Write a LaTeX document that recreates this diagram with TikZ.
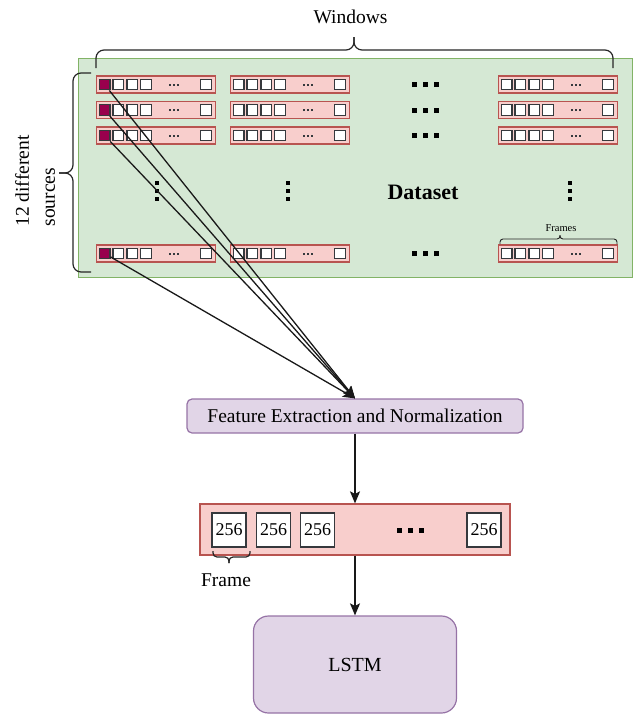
\documentclass[tikz,border=0pt]{standalone}
\usepackage{fontspec}
\setmainfont{Liberation Serif}
\usetikzlibrary{arrows.meta,calc}
\definecolor{dgreen}{HTML}{D5E8D4}
\definecolor{bgreen}{HTML}{82B366}
\definecolor{fred}{HTML}{F8CECC}
\definecolor{bred}{HTML}{B85450}
\definecolor{fpurp}{HTML}{E1D5E7}
\definecolor{bpurp}{HTML}{9673A6}
\definecolor{cellb}{HTML}{36393D}
\definecolor{srcred}{HTML}{99004D}
\newcommand{\myhdots}{\rule{5pt}{5pt}\hspace{6pt}\rule{5pt}{5pt}\hspace{6pt}\rule{5pt}{5pt}}
\newcommand{\myvdots}{\rule{4pt}{4pt}\hspace{4pt}\rule{4pt}{4pt}\hspace{4pt}\rule{4pt}{4pt}}
\newcommand{\mysdots}{\rule{2pt}{2pt}\hspace{2pt}\rule{2pt}{2pt}\hspace{2pt}\rule{2pt}{2pt}}
\begin{document}
\begin{tikzpicture}[x=1pt,y=-1pt,
  txt/.style={inner sep=0pt, font=\fontsize{19.5}{23}\selectfont},
  win/.style={draw=bred, fill=fred, line width=1.2pt, minimum width=119pt, minimum height=17pt, inner sep=0pt, anchor=west},
  cell/.style={draw=cellb, fill=white, line width=1.4pt, minimum size=10.5pt, inner sep=0pt},
  bigcell/.style={draw=cellb, fill=white, line width=1.4pt, minimum size=34pt, inner sep=0pt, font=\fontsize{18}{20}\selectfont},
  dots/.style={inner sep=0pt, text=black},
  brc/.style={line width=1.2pt, draw=black!85, rounded corners=8pt},
  arr/.style={line width=1.3pt, draw=black!90, -{Stealth[length=12pt,width=10pt,inset=2.5pt]}},
  pbox/.style={draw=bpurp, fill=fpurp, line width=1.2pt, inner sep=0pt}
]
\useasboundingbox (0,0) rectangle (635,715);

% dataset area
\node[draw=bgreen, fill=dgreen, line width=1.3pt, minimum width=554pt, minimum height=219pt, anchor=north west, inner sep=0pt] (dataset) at (78,58) {};
\node[inner sep=0pt, font=\bfseries\fontsize{22}{24}\selectfont] (dlabel) at (423,192) {Dataset};

% windows
\foreach \r/\y in {1/84.5,2/110,3/135.5,4/253.5}{
  \foreach \c/\x in {1/96,2/230,4/498}{
    \node[win] (w\r-\c) at (\x,\y) {};
    \ifnum\c=1 \def\cf{srcred}\else\def\cf{white}\fi
    \node[cell, fill=\cf] (c\r-\c-1) at ({\x+8.6},\y) {};
    \node[cell] (c\r-\c-2) at ({\x+22.4},\y) {};
    \node[cell] (c\r-\c-3) at ({\x+36.2},\y) {};
    \node[cell] (c\r-\c-4) at ({\x+50},\y) {};
    \node[dots, text=cellb] (e\r-\c) at ({\x+78},\y) {\mysdots};
    \node[cell] (c\r-\c-5) at ({\x+110},\y) {};
  }
  \node[dots] (hd\r) at (425,\y) {\myhdots};
}
\node[dots, rotate=90] (vd1) at (157,191) {\myvdots};
\node[dots, rotate=90] (vd2) at (288,191) {\myvdots};
\node[dots, rotate=90] (vd4) at (570,191) {\myvdots};

% braces
\coordinate (wt) at (354,37);
\draw[brc] (96,68) -- (96,50) -- (354,50) -- (wt);
\draw[brc] (613,68) -- (613,50) -- (354,50) -- (wt);
\node[txt] (wlabel) at (350.5,17) {Windows};

\coordinate (st) at (59,173);
\draw[brc] (91,73) -- (73,73) -- (73,173) -- (st);
\draw[brc] (91,272) -- (73,272) -- (73,173) -- (st);
\node[txt, rotate=90, align=left, font=\fontsize{19.5}{26}\selectfont] (slabel) at (35,181) {12 different\\sources};

\coordinate (ft) at (560,235);
\draw[brc, line width=0.9pt, rounded corners=3pt] (500,244) -- (500,239) -- (560,239) -- (ft);
\draw[brc, line width=0.9pt, rounded corners=3pt] (617,244) -- (617,239) -- (560,239) -- (ft);
\node[inner sep=0pt, font=\fontsize{10.5}{12}\selectfont] (flabel) at (561,228) {Frames};

% feature box
\node[pbox, rounded corners=5pt, minimum width=336pt, minimum height=34pt, font=\fontsize{19.5}{23}\selectfont] (feat) at (355,416) {Feature Extraction and Normalization};

\foreach \r in {1,2,3,4}{
  \draw[arr] (c\r-1-1) -- (feat.north);
}

% frame array
\node[draw=bred, fill=fred, line width=1.2pt, minimum width=310pt, minimum height=51pt, inner sep=0pt] (farr) at (355,529.5) {};
\node[bigcell] (f1) at (229,530) {256};
\node[bigcell] (f2) at (273.5,530) {256};
\node[bigcell] (f3) at (317.5,530) {256};
\node[bigcell] (f4) at (484,530) {256};
\node[dots] (fd) at (410,530) {\myhdots};

\coordinate (bt) at (229,563);
\draw[brc, rounded corners=4pt] (213,551) -- (213,557) -- (229,557) -- (bt);
\draw[brc, rounded corners=4pt] (250,551) -- (250,557) -- (229,557) -- (bt);
\node[txt] (frlabel) at (226,580) {Frame};

% LSTM
\node[pbox, rounded corners=15pt, minimum width=203pt, minimum height=97pt, font=\fontsize{20}{24}\selectfont] (lstm) at (355,664.5) {LSTM};

\draw[arr] (feat.south) -- (farr.north);
\draw[arr] (farr.south) -- (lstm.north);
\end{tikzpicture}
\end{document}
